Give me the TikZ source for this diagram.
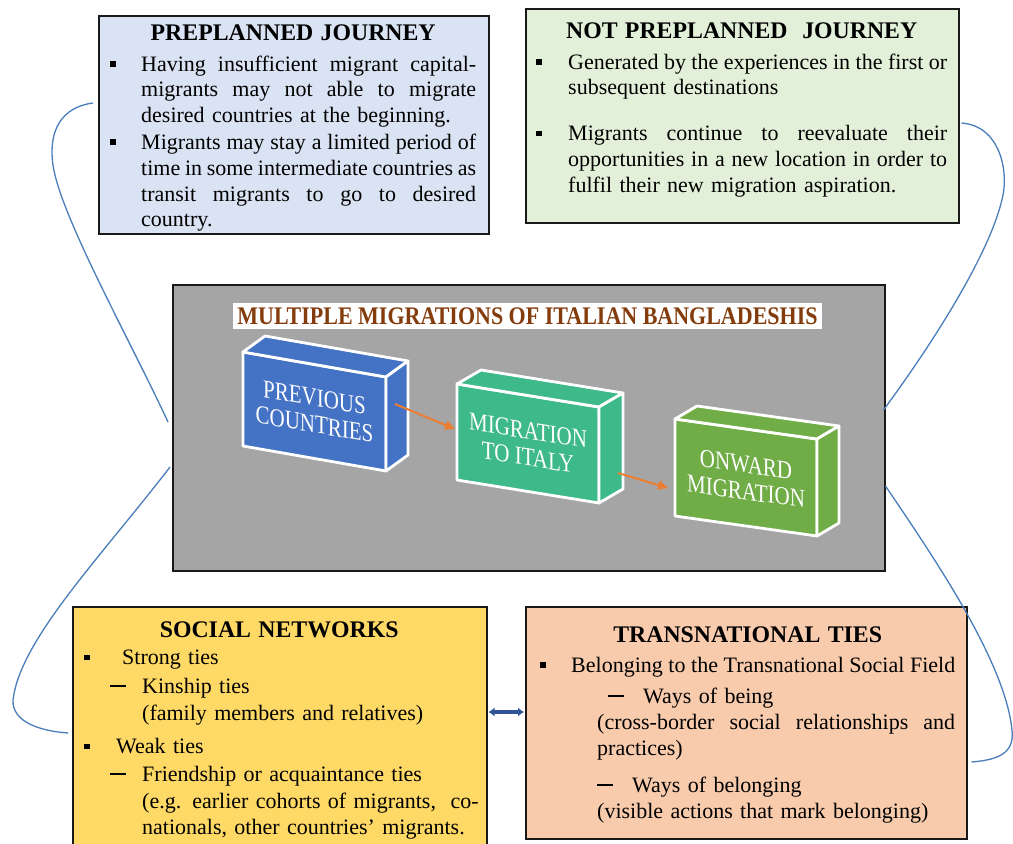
\documentclass[tikz,border=0pt]{standalone}
\usepackage{fontspec}
\setmainfont{Liberation Serif}
\usetikzlibrary{arrows.meta,calc}
\setlength\parindent{0pt}

\definecolor{planblue}{HTML}{DAE3F3}
\definecolor{plangreen}{HTML}{E2F0D9}
\definecolor{panelgray}{HTML}{A5A5A5}
\definecolor{netyellow}{HTML}{FFD966}
\definecolor{tiepeach}{HTML}{F8CBAD}
\definecolor{cubeblue}{HTML}{4472C4}
\definecolor{cubeteal}{HTML}{3EB98A}
\definecolor{cubegreen}{HTML}{70AD47}
\definecolor{flow}{HTML}{ED7D31}
\definecolor{linkblue}{HTML}{4A7EBB}
\definecolor{tieblue}{HTML}{2F5597}
\definecolor{headbrown}{HTML}{843C0C}

\newcommand\bodyfont{\fontsize{22}{25.8}\selectfont}
\newcommand\headfont{\fontsize{23.8}{26}\selectfont\bfseries}
\newcommand\sqbul{\rule[4.5pt]{5.5pt}{5.5pt}}
\newcommand\longdash{\rule[6.5pt]{16pt}{1.8pt}}
\newcommand\firstline{\rule{0pt}{20pt}}
% a line spread to a given width, and a line kept at its natural width
\newcommand\jl[2]{\makebox[#1][s]{\spaceskip=0pt\xspaceskip=0pt #2}}
\newcommand\nl[1]{\mbox{#1}}

% a box seen in perspective: #1 colour, (#2,#3) front top-left,
% (#4,#5) front top-right, #6 height, (#7,#8) depth offset (right, up)
\newcommand\cuboid[8]{%
  \filldraw[cubeedge, fill=#1] (#2,#3) -- (#4,#5) -- (#4,#5+#6) -- (#2,#3+#6) -- cycle;
  \filldraw[cubeedge, fill=#1] (#2,#3) -- (#2+#7,#3-#8) -- (#4+#7,#5-#8) -- (#4,#5) -- cycle;
  \filldraw[cubeedge, fill=#1] (#4,#5) -- (#4+#7,#5-#8) -- (#4+#7,#5-#8+#6) -- (#4,#5+#6) -- cycle;
}

\tikzset{
  card/.style={draw=black!90, line width=1.5pt, inner sep=0pt, anchor=north west},
  cardtext/.style={anchor=north west, inner sep=0pt, text width=#1, font=\bodyfont},
  cubeedge/.style={draw=white, line width=2.8pt, line join=round},
  cubelabel/.style={text=white, font=\fontsize{21}{22}\selectfont, align=center, inner sep=0pt, transform shape},
  flowarrow/.style={draw=flow, line width=2pt, -{Triangle[length=10pt,width=9pt]}},
  link/.style={draw=linkblue, line width=1.3pt},
  tiearrow/.style={draw=tieblue, line width=4pt, {Latex[length=6pt,width=9pt]}-{Latex[length=6pt,width=9pt]}}
}

\begin{document}
\begin{tikzpicture}[x=1pt,y=-1pt]
\clip (0,0) rectangle (1013,844);
\fill[white] (0,0) rectangle (1013,844);

% ---------- frames ----------
\node[card, fill=planblue, minimum width=390pt, minimum height=218pt] (pre) at (98,15) {};
\node[card, fill=plangreen, minimum width=433pt, minimum height=214pt] (npre) at (525,8) {};
\node[card, fill=panelgray, minimum width=712pt, minimum height=286pt] (core) at (172,284) {};
\node[card, fill=netyellow, minimum width=414pt, minimum height=260pt] (soc) at (72,606) {};
\node[card, fill=tiepeach, minimum width=441pt, minimum height=232pt] (ties) at (525,606) {};

% ---------- preplanned journey ----------
\node[cardtext=366pt] (pretext) at (110,20) {%
\firstline\makebox[\linewidth]{\headfont PREPLANNED JOURNEY}\\[5pt]
\makebox[31pt][l]{\sqbul}\jl{335pt}{Having insufficient migrant capital-}\\
\hspace*{31pt}\jl{335pt}{migrants may not able to migrate}\\
\hspace*{31pt}\nl{desired countries at the beginning.}\\[1pt]
\makebox[31pt][l]{\sqbul}\jl{335pt}{Migrants may stay a limited period of}\\
\hspace*{31pt}\jl{335pt}{time in some intermediate countries as}\\
\hspace*{31pt}\jl{335pt}{transit migrants to go to desired}\\
\hspace*{31pt}\nl{country.}};

% ---------- not preplanned journey ----------
\node[cardtext=411pt] (npretext) at (536,18.5) {%
\firstline\makebox[\linewidth]{\headfont NOT PREPLANNED~ JOURNEY}\\[4.5pt]
\makebox[32pt][l]{\sqbul}\jl{379pt}{Generated by the experiences in the first or}\\
\hspace*{32pt}\nl{subsequent destinations}\\[20pt]
\makebox[32pt][l]{\sqbul}\jl{379pt}{Migrants continue to reevaluate their}\\
\hspace*{32pt}\jl{379pt}{opportunities in a new location in order to}\\
\hspace*{32pt}\nl{fulfil their new migration aspiration.}};

% ---------- social networks ----------
\node[cardtext=390pt] (soctext) at (84,617) {%
\firstline\makebox[\linewidth]{\headfont SOCIAL NETWORKS}\\[1.7pt]
\makebox[38pt][l]{\sqbul}\nl{Strong ties}\\[3.2pt]
\hspace*{26pt}\makebox[32pt][l]{\longdash}\nl{Kinship ties}\\[0.5pt]
\hspace*{58pt}\nl{(family members and relatives)}\\[8pt]
\makebox[32pt][l]{\sqbul}\nl{Weak ties}\\[1.7pt]
\hspace*{26pt}\makebox[32pt][l]{\longdash}\nl{Friendship or acquaintance ties}\\[1.5pt]
\hspace*{58pt}\nl{(e.g. earlier cohorts of migrants,~ co-}\\
\hspace*{58pt}\nl{nationals, other countries’ migrants.}};

% ---------- transnational ties ----------
\node[cardtext=415pt] (tiestext) at (540,622) {%
\firstline\makebox[\linewidth]{\headfont TRANSNATIONAL TIES}\\[4.2pt]
\makebox[31pt][l]{\sqbul}\jl{384pt}{Belonging to the Transnational Social Field}\\[5.2pt]
\hspace*{68pt}\makebox[35pt][l]{\longdash}\nl{Ways of being}\\[0.7pt]
\hspace*{57pt}\jl{358pt}{(cross-border social relationships and}\\
\hspace*{57pt}\nl{practices)}\\[11.2pt]
\hspace*{57pt}\makebox[35pt][l]{\longdash}\nl{Ways of belonging}\\
\hspace*{57pt}\nl{(visible actions that mark belonging)}};

% ---------- central panel ----------
\node[fill=white, inner sep=0pt, minimum width=589pt, minimum height=26pt,
      font=\fontsize{22}{24}\selectfont\bfseries, text=headbrown] (head) at (527.5,316)
      {\scalebox{1}[1.15]{MULTIPLE MIGRATIONS OF ITALIAN BANGLADESHIS}};

\cuboid{cubeblue}{243}{352}{386}{377}{94}{22}{16}
\cuboid{cubeteal}{457}{384}{599}{407}{96}{24}{14}
\cuboid{cubegreen}{675}{419}{817}{439}{97}{22}{13}

\begin{scope}[shift={(314.5,411)}, yslant=-0.17, yscale=1.22]
  \node[cubelabel] (prev) at (0,0) {PREVIOUS\\COUNTRIES};
\end{scope}
\begin{scope}[shift={(528,444)}, yslant=-0.16, yscale=1.22]
  \node[cubelabel] (italy) at (0,0) {MIGRATION\\TO ITALY};
\end{scope}
\begin{scope}[shift={(746,478)}, yslant=-0.14, yscale=1.22]
  \node[cubelabel] (onward) at (0,0) {ONWARD\\MIGRATION};
\end{scope}

\coordinate (prev-out) at (395,404);
\coordinate (italy-in) at (455,429);
\coordinate (italy-out) at (618,473);
\coordinate (onward-in) at (668,488);
\draw[flowarrow] (prev-out) -- (italy-in);
\draw[flowarrow] (italy-out) -- (onward-in);

% ---------- links between the frames ----------
\draw[link] ($(pre.north west)+(-5,88)$) .. controls (62,107) and (48,130) .. (53,165)
  .. controls (60,215) and (130,340) .. ($(core.north west)+(-4,138)$);
\draw[link] ($(core.north west)+(-2,183)$) .. controls (100,558) and (20,640) .. (13,700)
  .. controls (12,722) and (40,731) .. ($(soc.north west)+(-4,127)$);
\draw[link] ($(npre.north east)+(2,115)$) .. controls (1000,126) and (1008,170) .. (1003,195)
  .. controls (992,250) and (935,340) .. ($(core.north east)+(-2,126)$);
\draw[link] ($(core.north east)+(0,202)$) .. controls (930,552) and (1005,660) .. (1012,730)
  .. controls (1015,755) and (995,760) .. ($(ties.north east)+(4,156)$);

\draw[tiearrow] ($(soc.north east)+(1,106)$) -- ($(ties.north west)+(-1,106)$);
\end{tikzpicture}
\end{document}
